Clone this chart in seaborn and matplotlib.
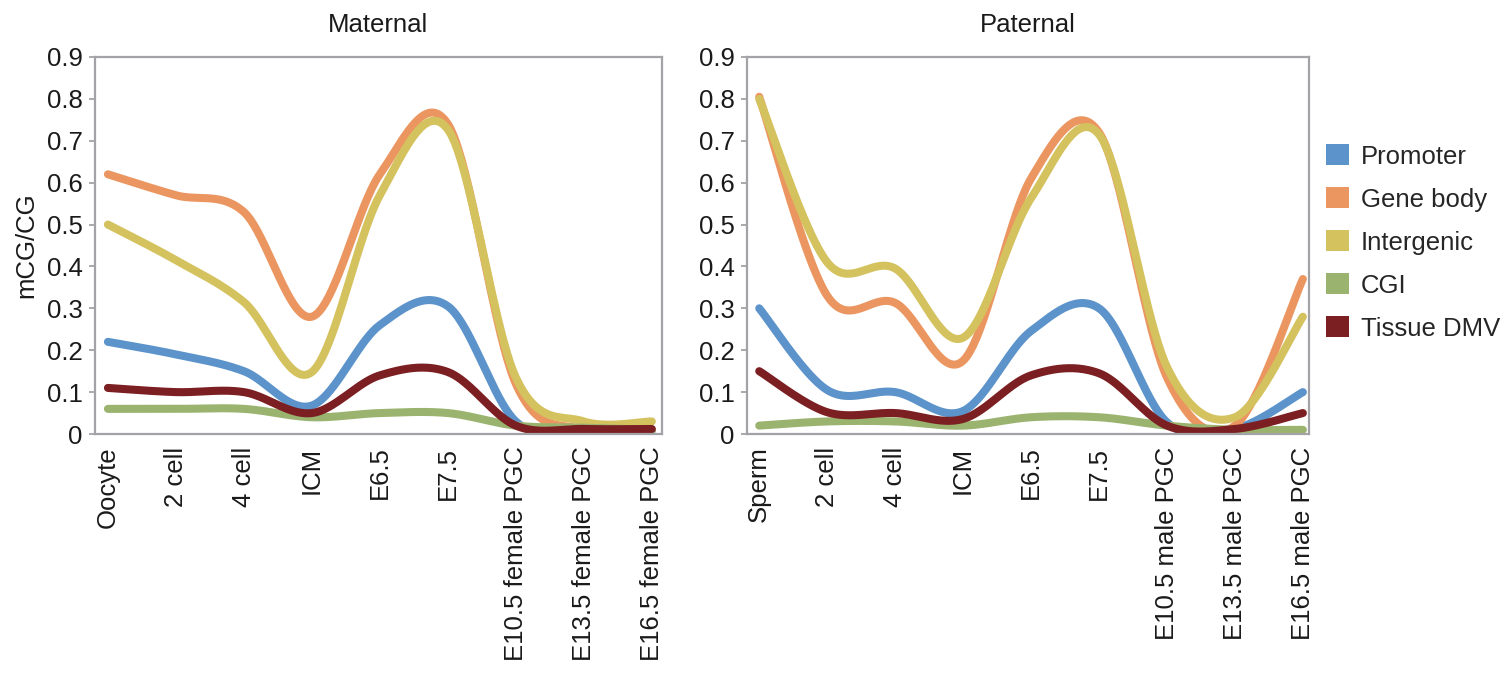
import numpy as np
import pandas as pd
import matplotlib
matplotlib.use("Agg")
import matplotlib.pyplot as plt
from matplotlib.patches import Patch
import seaborn as sns

# ---------------- data ----------------
maternal_stages = ["Oocyte", "2 cell", "4 cell", "ICM", "E6.5", "E7.5",
                   "E10.5 female PGC", "E13.5 female PGC", "E16.5 female PGC"]
paternal_stages = ["Sperm", "2 cell", "4 cell", "ICM", "E6.5", "E7.5",
                   "E10.5 male PGC", "E13.5 male PGC", "E16.5 male PGC"]
series_names = ["Promoter", "Gene body", "Intergenic", "CGI", "Tissue DMV"]

mat_promoter = [0.22, 0.19, 0.15, 0.068, 0.26, 0.305, 0.03, 0.01, 0.008]
mat_genebody = [0.62, 0.57, 0.53, 0.28, 0.62, 0.74, 0.12, 0.01, 0.01]
mat_intergenic = [0.50, 0.415, 0.315, 0.148, 0.57, 0.727, 0.135, 0.03, 0.03]
mat_cgi = [0.06, 0.06, 0.06, 0.04, 0.05, 0.05, 0.02, 0.015, 0.01]
mat_dmv = [0.11, 0.10, 0.10, 0.05, 0.14, 0.148, 0.02, 0.012, 0.012]

pat_promoter = [0.30, 0.105, 0.10, 0.055, 0.246, 0.30, 0.028, 0.012, 0.10]
pat_genebody = [0.805, 0.33, 0.313, 0.175, 0.61, 0.72, 0.135, 0.02, 0.37]
pat_intergenic = [0.80, 0.41, 0.395, 0.23, 0.563, 0.715, 0.16, 0.04, 0.28]
pat_cgi = [0.02, 0.03, 0.03, 0.02, 0.04, 0.04, 0.02, 0.01, 0.01]
pat_dmv = [0.15, 0.052, 0.05, 0.036, 0.14, 0.145, 0.02, 0.012, 0.05]

yticks = [0, 0.1, 0.2, 0.3, 0.4, 0.5, 0.6, 0.7, 0.8, 0.9]
ytick_labels = ["0", "0.1", "0.2", "0.3", "0.4", "0.5", "0.6", "0.7", "0.8", "0.9"]

colors = ["#5B93CA", "#EB9660", "#D4C25E", "#9AB46F", "#7B1F22"]

# ---------------- helpers ----------------
def smooth_curve(vals, n=40):
    """Catmull-Rom spline through the points (like Excel smoothed lines)."""
    y = np.asarray(vals, dtype=float)
    x = np.arange(len(y), dtype=float)
    xs, ys = [], []
    for i in range(len(y) - 1):
        p0 = np.array([x[max(i - 1, 0)], y[max(i - 1, 0)]])
        p1 = np.array([x[i], y[i]])
        p2 = np.array([x[i + 1], y[i + 1]])
        p3 = np.array([x[min(i + 2, len(y) - 1)], y[min(i + 2, len(y) - 1)]])
        c1 = p1 + (p2 - p0) / 6.0
        c2 = p2 - (p3 - p1) / 6.0
        t = np.linspace(0, 1, n, endpoint=(i == len(y) - 2))[:, None]
        pts = ((1 - t) ** 3) * p1 + 3 * ((1 - t) ** 2) * t * c1 + 3 * (1 - t) * t ** 2 * c2 + t ** 3 * p2
        xs.append(pts[:, 0]); ys.append(pts[:, 1])
    return np.concatenate(xs), np.concatenate(ys)


def build_frame(series_list):
    rows = []
    for name, vals in zip(series_names, series_list):
        sx, sy = smooth_curve(vals)
        rows.append(pd.DataFrame({"x": sx, "y": sy, "series": name, "order": np.arange(len(sx))}))
    return pd.concat(rows, ignore_index=True)


sns.set_style("white")
plt.rcParams["font.family"] = ["Liberation Sans", "DejaVu Sans"]
FS = 18.5
frame_color = "#A3A3A7"

fig = plt.figure(figsize=(15.12, 6.73), dpi=100)
ax1 = fig.add_axes([95 / 1512, 1 - 434 / 673, (662 - 95) / 1512, (434 - 57) / 673])
ax2 = fig.add_axes([747 / 1512, 1 - 434 / 673, (1309 - 747) / 1512, (434 - 57) / 673])

panels = [
    (ax1, [mat_promoter, mat_genebody, mat_intergenic, mat_cgi, mat_dmv], maternal_stages, "Maternal", (-0.19, 8.15)),
    (ax2, [pat_promoter, pat_genebody, pat_intergenic, pat_cgi, pat_dmv], paternal_stages, "Paternal", (-0.18, 8.09)),
]

for ax, data, stages, title, xl in panels:
    df = build_frame(data)
    for name, col in zip(series_names, colors):
        sub = df[df["series"] == name]
        sns.lineplot(data=sub, x="x", y="y", ax=ax, color=col, linewidth=5.8,
                     sort=False, estimator=None, legend=False,
                     solid_capstyle="round", solid_joinstyle="round")
    ax.set_xlim(*xl)
    ax.set_ylim(0, 0.9)
    ax.set_xticks(range(len(stages)))
    ax.set_xticklabels(stages, rotation=90, fontsize=FS)
    ax.set_yticks(yticks)
    ax.set_yticklabels(ytick_labels, fontsize=FS)
    ax.tick_params(axis="x", length=0, pad=9, colors="#1a1a1a")
    ax.tick_params(axis="y", length=4, width=1.3, color=frame_color, pad=5, labelcolor="#1a1a1a", left=True)
    ax.set_xlabel("")
    ax.set_ylabel("")
    for sp in ax.spines.values():
        sp.set_color(frame_color)
        sp.set_linewidth(1.6)
    ax.set_title(title, fontsize=FS, pad=18, color="#1a1a1a")

ax1.set_ylabel("mCG/CG", fontsize=FS, color="#1a1a1a", labelpad=6)

handles = [Patch(facecolor=c, edgecolor="none") for c in colors]
fig.legend(handles, series_names, loc="upper left", bbox_to_anchor=(1326 / 1512, 1 - 144 / 673),
           frameon=False, fontsize=FS, handlelength=0.9, handleheight=0.9,
           handletextpad=0.45, labelspacing=0.72, borderpad=0, borderaxespad=0)

fig.savefig("out.png", dpi=100)
